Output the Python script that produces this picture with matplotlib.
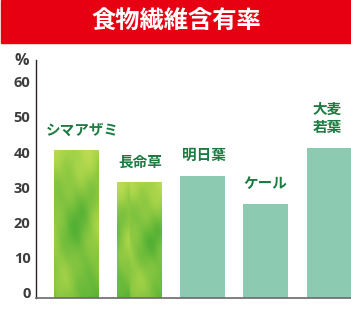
import numpy as np
import matplotlib
matplotlib.use("Agg")
import matplotlib.pyplot as plt
from matplotlib.patches import Rectangle
from matplotlib.colors import LinearSegmentedColormap
from matplotlib.transforms import ScaledTranslation

plt.rcParams['font.family'] = ['Noto Sans CJK JP', 'DejaVu Sans']

# 食物繊維含有率 (%)
names = ['シマアザミ', '長命草', '明日葉', 'ケール', '大麦\n若葉']
values = [42.0, 32.9, 34.7, 26.7, 42.7]
textured = [True, True, False, False, False]
yticks = [0, 10, 20, 30, 40, 50, 60]

fig = plt.figure(figsize=(3.51, 3.23), dpi=100)

# title band
fig.patches.append(Rectangle((1 / 351, 280 / 323), 350 / 351, 43 / 323,
                             transform=fig.transFigure, color='#e60012',
                             zorder=0))
fig.text(176 / 351, 1 - 22 / 323, '食物繊維含有率', color='white',
         fontsize=17.5, fontweight='bold', ha='center', va='center')

ax = fig.add_axes([36 / 351, 25 / 323, 315 / 351, 238 / 323])
ax.set_xlim(-0.642, 4.35)
ax.set_ylim(0, 67.6)

# soft watercolour-like green wash for the first two bars
wash = LinearSegmentedColormap.from_list('wash', ['#52b034', '#72bd3c', '#8dc842', '#a8d449', '#bcdb52'])
gy, gx = np.mgrid[0:1:240j, 0:1:80j]
tex = (np.sin(gy * 7 + np.sin(gx * 4) * 1.2) * 0.35
       + np.sin(gx * 6 + gy * 3) * 0.25
       + np.cos(gy * 13 - gx * 7) * 0.15
       + np.sin(gx * 17 + gy * 21) * 0.06
       + gy * 0.9)

w = 0.71
bars = ax.bar(range(len(values)), values, width=w,
              color=['#86c440' if t else '#8ccbb2' for t in textured],
              zorder=2)
for i, (b, t) in enumerate(zip(bars, textured)):
    if t:
        im = ax.imshow(np.roll(tex, i * 23, axis=1), cmap=wash, aspect='auto',
                       extent=(i - w / 2, i + w / 2, 0, values[i]),
                       origin='lower', zorder=3, interpolation='bilinear')
        im.set_clip_path(b)

label_dx = [6, 1, 1, 0, -2]
for i, (n, v) in enumerate(zip(names, values)):
    ax.annotate(n, (i, v), xytext=(label_dx[i] * 0.72, 9), textcoords='offset points',
                ha='center', va='bottom', fontsize=10.5, fontweight='bold',
                color='#1d7a40', linespacing=1.2, annotation_clip=False)

ax.set_xticks([])
ax.set_yticks(yticks)
ax.tick_params(axis='y', length=0, pad=4, labelsize=10.5, labelcolor='#3c3c3c')
for lab in ax.get_yticklabels():
    lab.set_fontfamily(['Open Sans', 'DejaVu Sans'])
    lab.set_fontweight('bold')
    lab.set_transform(lab.get_transform() + ScaledTranslation(0, 5 / 100, fig.dpi_scale_trans))

for s in ['top', 'right']:
    ax.spines[s].set_visible(False)
ax.spines['left'].set_color('#2b2326')
ax.spines['left'].set_linewidth(1.0)
ax.spines['bottom'].set_color('#6a6a6a')
ax.spines['bottom'].set_linewidth(1.2)
ax.spines['bottom'].set_zorder(4)

fig.text(21.5 / 351, 1 - 61 / 323, '%', fontsize=11.5, fontweight='bold',
         color='#3c3c3c', ha='center', va='center', family=['Open Sans', 'DejaVu Sans'])

fig.savefig('out.png', dpi=100)
